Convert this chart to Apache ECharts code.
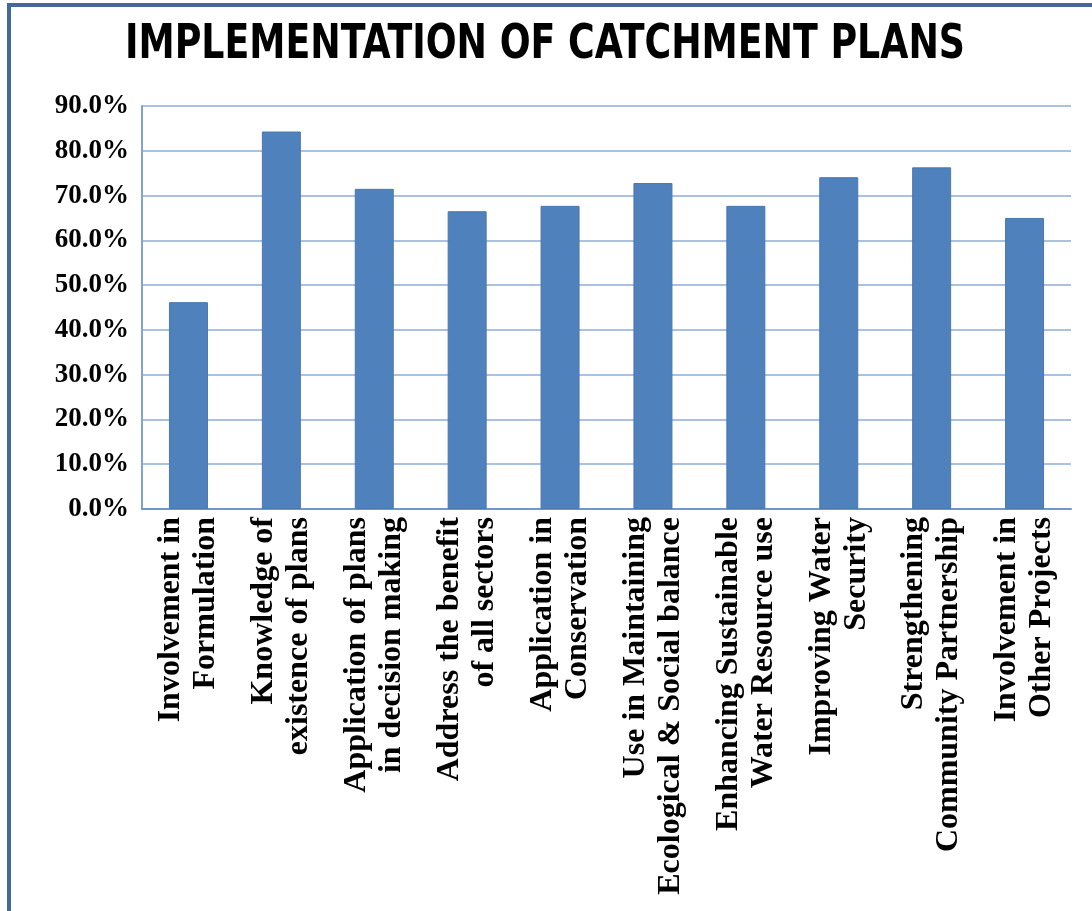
<!DOCTYPE html>
<html>
<head>
<meta charset="utf-8">
<title>Implementation of Catchment Plans</title>
<script src="https://cdn.jsdelivr.net/npm/echarts@6/dist/echarts.min.js"></script>
<style>
  html, body { margin: 0; padding: 0; background: #ffffff; }
  #chart { width: 1092px; height: 911px; }
</style>
</head>
<body>
<div id="chart"></div>
<script>
// Survey responses: share of respondents per catchment-plan aspect
const categories = [
  'Involvement in\nFormulation',
  'Knowledge of\nexistence of plans',
  'Application of plans\nin decision making',
  'Address the benefit\nof all sectors',
  'Application in\nConservation',
  'Use in Maintaining\nEcological & Social balance',
  'Enhancing Sustainable\nWater Resource use',
  'Improving Water\nSecurity',
  'Strengthening\nCommunity Partnership',
  'Involvement in\nOther Projects'
];
const percentValues = [46.2, 84.3, 71.5, 66.5, 67.7, 72.8, 67.7, 74.1, 76.3, 65.0];
const yTicks = [0, 10, 20, 30, 40, 50, 60, 70, 80, 90];
const titleText = 'IMPLEMENTATION OF CATCHMENT PLANS';

// Condensed bold heading: squeeze the available sans font to a narrow width
const titleFont = '"Liberation Sans Narrow", "DejaVu Sans Condensed", "DejaVu Sans", sans-serif';
const titleSize = 48;
const titleWidth = 840;
const measureCtx = document.createElement('canvas').getContext('2d');
measureCtx.font = 'bold ' + titleSize + 'px ' + titleFont;
const naturalWidth = measureCtx.measureText(titleText).width;
const titleScaleX = Math.min(1, titleWidth / naturalWidth);

const chart = echarts.init(document.getElementById('chart'), null, { renderer: 'canvas' });

const option = {
  backgroundColor: '#ffffff',
  animation: false,
  graphic: [
    {
      type: 'text',
      x: 545,
      y: 46,
      scaleX: titleScaleX,
      style: {
        text: titleText,
        align: 'center',
        verticalAlign: 'middle',
        fontFamily: titleFont,
        fontWeight: 'bold',
        fontSize: titleSize,
        fill: '#000000'
      },
      z: 50
    },
    {
      // outer frame around the chart (left and top edges visible)
      type: 'rect',
      x: 9,
      y: 5,
      shape: { x: 0, y: 0, width: 1200, height: 1000 },
      style: { fill: 'none', stroke: '#44689c', lineWidth: 4 },
      z: 100
    }
  ],
  grid: {
    left: 142,
    right: 21,
    top: 106,
    bottom: 402,
    containLabel: false
  },
  xAxis: {
    type: 'category',
    data: categories,
    axisLine: { show: true, lineStyle: { color: '#6f97cf', width: 2 } },
    axisTick: { show: false },
    axisLabel: {
      rotate: 90,
      margin: 8,
      interval: 0,
      padding: [0, 0, 14, 0],
      fontFamily: '"Liberation Serif", "Times New Roman", serif',
      fontWeight: 'bold',
      fontSize: 32,
      lineHeight: 35,
      color: '#000000'
    }
  },
  yAxis: {
    type: 'value',
    min: yTicks[0],
    max: yTicks[yTicks.length - 1],
    interval: 10,
    axisLine: { show: true, lineStyle: { color: '#7fa3d5', width: 2 } },
    axisTick: { show: false },
    splitLine: { show: true, lineStyle: { color: '#a9c1e3', width: 2 } },
    axisLabel: {
      margin: 13,
      formatter: v => v.toFixed(1) + '%',
      fontFamily: '"Liberation Serif", "Times New Roman", serif',
      fontWeight: 'bold',
      fontSize: 27,
      color: '#000000'
    }
  },
  series: [
    {
      type: 'bar',
      data: percentValues,
      barWidth: 39,
      itemStyle: {
        color: '#4f81bd',
        borderColor: '#4a78b0',
        borderWidth: 1
      }
    }
  ]
};

chart.setOption(option);
</script>
</body>
</html>
